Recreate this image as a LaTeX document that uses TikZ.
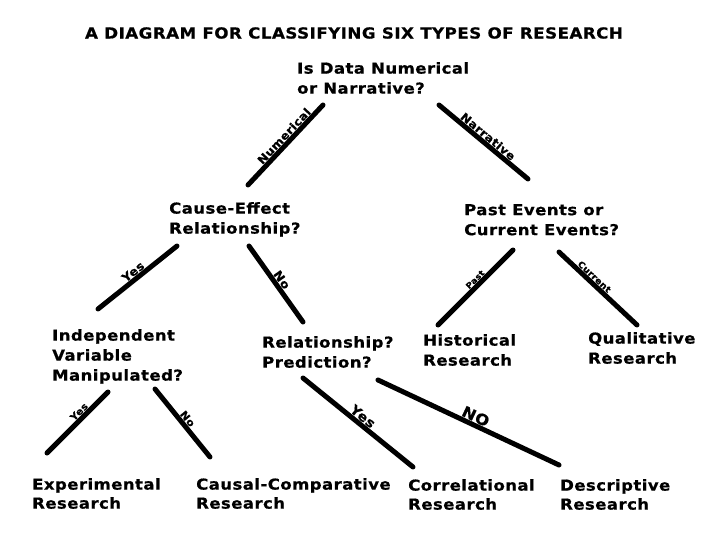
\documentclass[tikz,border=0pt]{standalone}
\usepackage{fontspec}
\newfontfamily\dfont{DejaVu Sans Bold}[FakeStretch=1.1,LetterSpace=3,FakeBold=0.6]
\begin{document}
\begin{tikzpicture}[x=1pt,y=-1pt,
  txt/.style={anchor=north west,inner sep=0pt,align=left,font=\dfont\fontsize{15}{20}\selectfont},
  btxt/.style={txt,font=\dfont\fontsize{15}{19}\selectfont},
  branch/.style={line width=5pt,line cap=round},
  lbl/.style={sloped,above,inner sep=0.5pt,font=\dfont\fontsize{11}{12}\selectfont}]
\useasboundingbox[fill=white] (0,0) rectangle (720,540);
\node[inner sep=0pt,font=\dfont\fontsize{15.2}{18}\selectfont] (title) at (354,33) {A DIAGRAM FOR CLASSIFYING SIX TYPES OF RESEARCH};
\node[txt] (q1) at (297,62) {Is Data Numerical\\or Narrative?};
\node[txt] (q2) at (169,202) {Cause-Effect\\Relationship?};
\node[txt] (q3) at (464,204) {Past Events or\\Current Events?};
\node[txt] (q4) at (52,329) {Independent\\Variable\\Manipulated?};
\node[txt] (q5) at (262,336) {Relationship?\\Prediction?};
\node[txt] (hist) at (423,334) {Historical\\Research};
\node[txt] (qual) at (588,332) {Qualitative\\Research};
\node[btxt] (exp) at (32,478) {Experimental\\Research};
\node[btxt] (caus) at (196,478) {Causal-Comparative\\Research};
\node[btxt] (corr) at (408,479) {Correlational\\Research};
\node[btxt] (desc) at (560,479) {Descriptive\\Research};
% connector end points
\coordinate (a1) at (323,105); \coordinate (a2) at (248,185);
\coordinate (b1) at (439,105); \coordinate (b2) at (528,179);
\coordinate (c1) at (177,246); \coordinate (c2) at (98,309);
\coordinate (d1) at (249,246); \coordinate (d2) at (303,322);
\coordinate (e1) at (513,250); \coordinate (e2) at (438,325);
\coordinate (f1) at (559,252); \coordinate (f2) at (637,325);
\coordinate (g1) at (108,392); \coordinate (g2) at (47,453);
\coordinate (h1) at (155,389); \coordinate (h2) at (210,457);
\coordinate (i1) at (303,378); \coordinate (i2) at (413,467);
\coordinate (j1) at (378,380); \coordinate (j2) at (559,465);
\draw[branch] (a2) -- node[lbl,pos=0.55] {Numerical} (a1);
\draw[branch] (b1) -- node[lbl,pos=0.5] {Narrative} (b2);
\draw[branch] (c2) -- node[lbl,pos=0.5,font=\dfont\fontsize{11.5}{12}\selectfont] {Yes} (c1);
\draw[branch] (d1) -- node[lbl,pos=0.5,font=\dfont\fontsize{11.5}{12}\selectfont] {No} (d2);
\draw[branch] (e2) -- node[lbl,pos=0.55,font=\dfont\fontsize{8}{9}\selectfont] {Past} (e1);
\draw[branch] (f1) -- node[lbl,pos=0.4,font=\dfont\fontsize{8.5}{9}\selectfont] {Current} (f2);
\draw[branch] (g2) -- node[lbl,pos=0.6,font=\dfont\fontsize{9.5}{10}\selectfont] {Yes} (g1);
\draw[branch] (h1) -- node[lbl,pos=0.5,font=\dfont\fontsize{10}{11}\selectfont] {No} (h2);
\draw[branch] (i1) -- node[lbl,pos=0.5,font=\dfont\fontsize{13}{14}\selectfont] {Yes} (i2);
\draw[branch] (j1) -- node[lbl,pos=0.52,font=\dfont\fontsize{15}{16}\selectfont] {NO} (j2);
\end{tikzpicture}
\end{document}
